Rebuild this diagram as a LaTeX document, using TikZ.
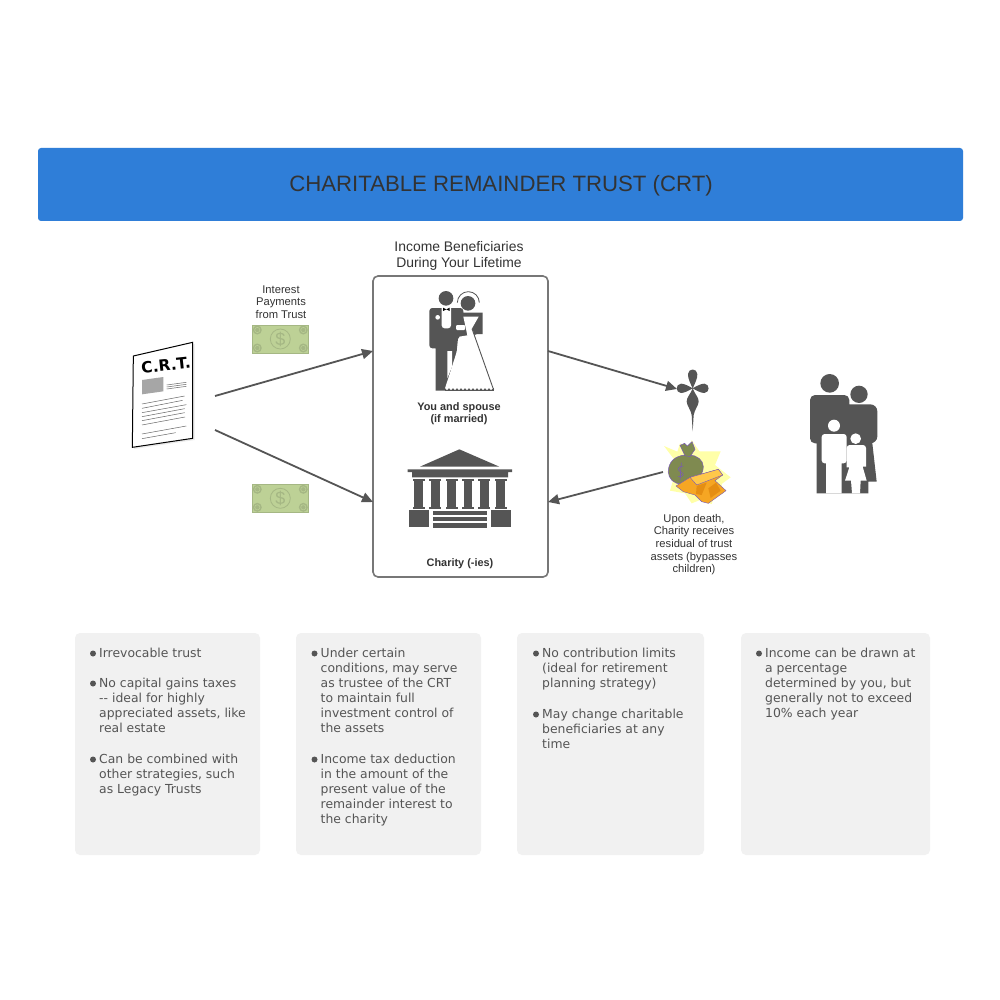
\documentclass[tikz,border=0pt]{standalone}
\usepackage{fontspec}
\setmainfont{Liberation Sans}
\newfontfamily\cardfont{DejaVu Sans}
\usetikzlibrary{arrows.meta}
\definecolor{ink}{HTML}{555555}
\definecolor{banner}{HTML}{2F7ED8}
\definecolor{cardbg}{HTML}{F1F1F1}
\definecolor{note}{HTML}{333333}
\definecolor{billbg}{HTML}{BDD196}
\definecolor{billdk}{HTML}{A5B784}
\definecolor{gold}{HTML}{F6A623}
\definecolor{golddk}{HTML}{E58E12}
\definecolor{goldlt}{HTML}{FFC84A}
\definecolor{pur}{HTML}{7A5AB5}
\definecolor{bag}{HTML}{7F8A50}
\definecolor{burst}{HTML}{FFFFA8}
\tikzset{
  link/.style={draw=ink,line width=1.8pt,-{Triangle[length=11pt,width=10pt]}},
  cardbox/.style={fill=cardbg,rounded corners=5pt,inner sep=0pt,outer sep=0pt,anchor=north west},
  cardtext/.style={anchor=north west,inner sep=0pt,align=left,text=ink,font=\cardfont\fontsize{12.4}{15.1}\selectfont},
  dot/.style={fill=ink,circle,inner sep=0pt,minimum size=6pt},
  smalltext/.style={anchor=north,inner sep=0pt,align=center,text=note,font=\fontsize{11.2}{12.6}\selectfont},
  smallbold/.style={anchor=north,inner sep=0pt,align=center,text=note,font=\bfseries\fontsize{10.9}{12}\selectfont},
  icon/.style={fill=ink,draw=none},
  paper/.style={fill=white,draw=none},
  docline/.style={draw=black!60,line width=0.5pt},
  pics/bill/.style={code={
    \fill[billbg,draw=billdk,line width=.8pt] (0,0) rectangle (56,28);
    \foreach \cx/\cy in {5/5,51/5,5/23,51/23}{\fill[billdk] (\cx,\cy) circle (4.5);\draw[billbg,line width=.5pt] (\cx,\cy) circle (2.6);}
    \draw[billdk,line width=.8pt] (28,14) circle (10);
    \node[inner sep=0pt,text=billdk,font=\fontsize{18}{18}\selectfont] (#1) at (28,14) {\$};
  }}
}
\newcommand{\bulletitem}[4]{% name, x, first baseline y, text
  \node[dot] (#1d) at (#2-6,#3-3.5) {};
  \node[cardtext] (#1) at (#2,#3-10) {\rule{0pt}{10pt}#4};
}
\begin{document}
\begin{tikzpicture}[x=1pt,y=-1pt]
\useasboundingbox (0,0) rectangle (1000,1000);
\fill[white] (0,0) rectangle (1000,1000);

% banner
\node[fill=banner,rounded corners=3pt,minimum width=925pt,minimum height=73pt,inner sep=0pt,outer sep=0pt,anchor=north west] (head) at (38,148) {};
\node[anchor=base,inner sep=0pt,text=note,font=\fontsize{22.2}{24}\selectfont] (title) at (501,192) {CHARITABLE REMAINDER TRUST (CRT)};

% central box
\node[draw=ink!80,line width=1.6pt,rounded corners=5pt,minimum width=175pt,minimum height=301pt,inner sep=0pt,outer sep=0pt,anchor=north west] (box) at (373,276) {};
\node[anchor=north,inner sep=0pt,align=center,text=note,font=\fontsize{13.9}{16}\selectfont] (benef) at (459,241) {\rule{0pt}{10pt}Income Beneficiaries\\During Your Lifetime};

\node[smalltext] (interest) at (281,283) {\rule{0pt}{10pt}Interest\\Payments\\from Trust};
\pic at (252.3,325) {bill=billa};
\pic at (252.3,484.3) {bill=billb};

% document
\begin{scope}[shift={(110,270)},scale=1/3]
  \fill[black!8] (74,262) -- (254,222) -- (254,510) -- (72,537) -- cycle;
  \draw[black,line width=1pt,fill=white] (70,258) -- (248,217) -- (248,505) -- (67,532) -- cycle;
  \fill[black!35] (96,330) -- (160,321) -- (160,364) -- (96,373) -- cycle;
  \foreach \yy/\aa/\bb in {345/170/229,351/170/229,357/170/229}{\draw[docline] (\aa,\yy) -- (\bb,\yy-8);}
  \foreach \yy/\bb in {402/224,415/218,428/229,440/224,452/224,465/225}{\draw[docline] (96,\yy) -- (\bb,\yy-24);}
  \draw[docline] (96,492) -- (229,468);
  \draw[docline] (96,506) -- (197,488);
\end{scope}
\node[inner sep=0pt,rotate=6,text=black,font=\cardfont\bfseries\fontsize{15.5}{17}\selectfont] (doctitle) at (166,365) {C.R.T.};

% couple
\begin{scope}[shift={(370,270)},scale=1/3]
  \fill[icon] (228,85) circle (22);
  \fill[icon] (294,100) circle (22);
  \draw[ink,line width=.8pt] (262,98) arc (180:360:33);
  \fill[icon] (197,362) -- (197,235) [rounded corners=3pt] -- (178,235) -- (178,114) -- (280,114) [sharp corners] -- (280,128) -- (338,128) -- (338,192) -- (322,192) -- (285,205) -- (264,205) -- (248,362) -- cycle;
  \fill[paper] (232,243) -- (246,243) -- (246,290) -- (232,325) -- cycle;
  \fill[paper] (280,140) -- (326,140) -- (306,175) -- (368,355) -- (225,355) -- (262,240) -- (268,200) -- (292,196) -- cycle;
  \draw[ink,line width=.9pt] (306,176) -- (371,360);
  \fill[icon] (225,355) -- (371,355) -- (371,362) -- (225,362) -- cycle;
  \foreach \xx in {231,243,...,368}{\fill[paper] (\xx,355) circle (5.4);}
  \fill[paper] (215,113) -- (243,113) -- (243,165) [rounded corners=3pt] -- (243,175) -- (215,175) [sharp corners] -- (215,165) -- cycle;
  \fill[black] (219,113) -- (229,118) -- (239,113) -- (239,123) -- (229,118) -- (219,123) -- cycle;
  \fill[paper] (203,142) circle (7);
  \fill[paper,rounded corners=1pt] (258,165) rectangle (285,180);
\end{scope}
\node[smallbold] (you) at (459,400) {\rule{0pt}{10pt}You and spouse\\(if married)};

% temple
\begin{scope}[shift={(370,430)},scale=1/3]
  \fill[icon] (150,110) -- (268,58) -- (388,110) -- cycle;
  \fill[icon] (113,118) -- (426,118) -- (426,126) -- (414,126) -- (414,142) -- (126,142) -- (126,126) -- (113,126) -- cycle;
  \foreach \xx in {146,196,245,294,343,392}{
    \fill[icon] (\xx-18,147) rectangle (\xx+18,153);
    \fill[icon] (\xx-13,153) rectangle (\xx+13,230);
    \fill[icon] (\xx-18,230) rectangle (\xx+18,236);
  }
  \fill[icon] (117,241) rectangle (177,291);
  \fill[icon] (362,241) rectangle (422,291);
  \fill[icon] (189,243) rectangle (350,256);
  \fill[icon] (189,261) rectangle (350,274);
  \fill[icon] (189,279) rectangle (350,293);
\end{scope}
\node[smallbold] (charity) at (460,556) {\rule{0pt}{10pt}Charity (-ies)};

% cross
\begin{scope}[shift={(640,360)},scale=1/3]
  \fill[icon] (158,85) .. controls (152,72) and (143,55) .. (144,42) .. controls (145,24) and (171,24) .. (172,42) .. controls (173,55) and (164,72) .. (158,85)
    .. controls (170,78) and (183,71) .. (193,71) .. controls (210,72) and (210,98) .. (193,99) .. controls (183,99) and (170,92) .. (158,85)
    .. controls (163,100) and (177,113) .. (176,125) .. controls (175,138) and (164,148) .. (161,165) -- (158,214) -- (155,165) .. controls (152,148) and (141,138) .. (140,125) .. controls (139,113) and (153,100) .. (158,85)
    .. controls (146,92) and (133,99) .. (123,99) .. controls (106,98) and (106,72) .. (123,71) .. controls (133,71) and (146,78) .. (158,85) -- cycle;
  % burst
  \fill[burst] (72,258) -- (112,275) -- (120,250) -- (150,262) -- (155,240) -- (178,274) -- (242,274) -- (225,315) -- (272,352) -- (245,372) -- (250,400) -- (222,412) -- (215,432) -- (180,420) -- (155,430) -- (135,400) -- (90,392) -- (98,365) -- (82,335) -- (100,318) -- (100,295) -- cycle;
  % bag
  \filldraw[fill=bag,draw=pur,line width=.5pt] (135,285) .. controls (105,288) and (85,305) .. (85,335) .. controls (85,355) and (100,372) .. (125,372) .. controls (160,372) and (190,350) .. (190,320) .. controls (190,300) and (170,286) .. (150,285) -- cycle;
  \filldraw[fill=bag,draw=pur,line width=.5pt] (120,256) -- (134,250) -- (142,258) -- (156,245) -- (165,268) -- (150,290) -- (135,287) -- cycle;
  \draw[pur,line width=.6pt] (130,318) .. controls (112,318) and (112,332) .. (122,336) .. controls (134,340) and (132,352) .. (114,350);
  \draw[pur,line width=.6pt] (124,308) -- (120,362);
  % bars
  \filldraw[fill=gold,draw=pur,line width=.4pt] (108,378) -- (150,352) -- (235,328) -- (248,345) -- (225,362) -- (258,392) -- (205,430) -- (185,425) -- (165,405) -- (130,395) -- cycle;
  \fill[golddk] (205,385) -- (228,368) -- (242,392) -- (212,414) -- cycle;
  \fill[golddk] (170,378) -- (200,368) -- (185,405) -- (168,402) -- cycle;
  \filldraw[fill=goldlt,draw=pur,line width=.4pt] (150,352) -- (235,328) -- (248,345) -- (170,375) -- cycle;
\end{scope}
\node[smalltext] (upon) at (694,512) {\rule{0pt}{10pt}Upon death,\\Charity receives\\residual of trust\\assets (bypasses\\children)};

% family
\begin{scope}[shift={(790,360)},scale=1/3]
  \fill[icon] (119,70) circle (28);
  \fill[icon] (207,103) circle (26);
  \fill[icon] (80,400) -- (80,250) [rounded corners=5pt] -- (60,250) -- (60,105) -- (178,105) [sharp corners] -- (178,133) [rounded corners=7pt] -- (262,133) -- (262,250) [sharp corners] -- (247,250) -- (260,365) -- (235,365) -- (235,400) -- cycle;
  \fill[paper] (132,197) circle (18);
  \fill[paper] (108,400) -- (108,310) [rounded corners=3pt] -- (95,310) -- (95,222) -- (170,222) -- (170,310) [sharp corners] -- (155,310) -- (155,400) -- cycle;
  \fill[paper] (197,236) circle (16);
  \fill[paper] (178,322) -- (165,362) -- (183,362) -- (186,400) -- (210,400) -- (212,362) -- (230,362) -- (218,320) -- (228,320) [rounded corners=3pt] -- (228,255) -- (170,255) [sharp corners] -- (170,322) -- cycle;
\end{scope}

% connectors
\coordinate (c1s) at (215,396);
\coordinate (c1e) at (box.west |- 0,351);
\coordinate (c2s) at (215,430);
\coordinate (c2e) at (box.west |- 0,502);
\coordinate (c3s) at (box.east |- 0,351);
\coordinate (c3e) at (677,389);
\coordinate (c4s) at (663,472);
\coordinate (c4e) at (box.east |- 0,502);
\draw[link] (c1s) -- (c1e);
\draw[link] (c2s) -- (c2e);
\draw[link] (c3s) -- (c3e);
\draw[link] (c4s) -- (c4e);

% cards
\node[cardbox,minimum width=185pt,minimum height=222pt] (card1) at (75,633) {};
\node[cardbox,minimum width=185pt,minimum height=222pt] (card2) at (296,633) {};
\node[cardbox,minimum width=187pt,minimum height=222pt] (card3) at (517,633) {};
\node[cardbox,minimum width=189pt,minimum height=222pt] (card4) at (741,633) {};

\bulletitem{a1}{99}{657}{Irrevocable trust}
\bulletitem{a2}{99}{687}{No capital gains taxes\\-- ideal for highly\\appreciated assets, like\\real estate}
\bulletitem{a3}{99}{763}{Can be combined with\\other strategies, such\\as Legacy Trusts}
\bulletitem{b1}{320.5}{657}{Under certain\\conditions, may serve\\as trustee of the CRT\\to maintain full\\investment control of\\the assets}
\bulletitem{b2}{320.5}{763}{Income tax deduction\\in the amount of the\\present value of the\\remainder interest to\\the charity}
\bulletitem{c1}{542}{657}{No contribution limits\\(ideal for retirement\\planning strategy)}
\bulletitem{c2}{542}{718}{May change charitable\\beneficiaries at any\\time}
\bulletitem{d1}{765}{657}{Income can be drawn at\\a percentage\\determined by you, but\\generally not to exceed\\10\% each year}
\end{tikzpicture}
\end{document}
